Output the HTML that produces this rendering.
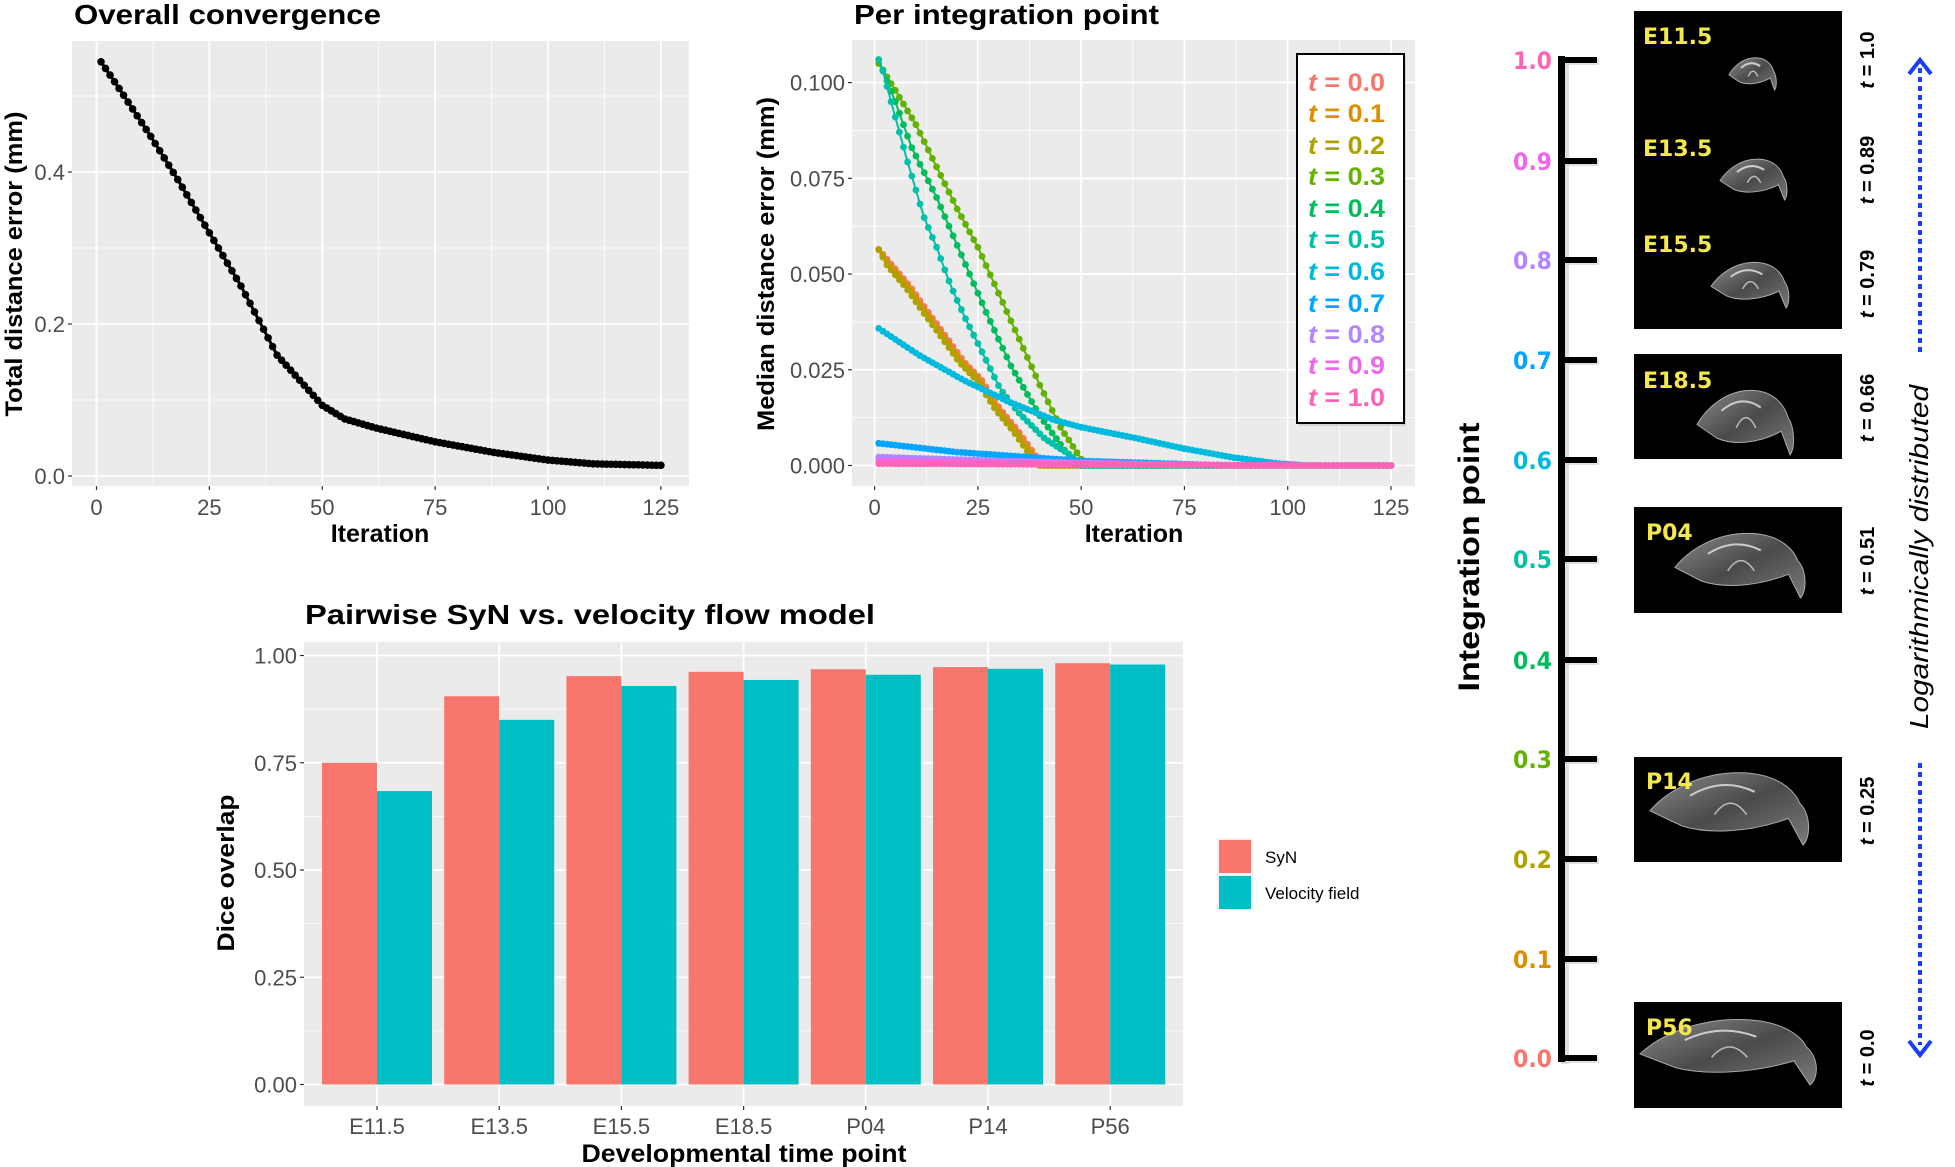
<!DOCTYPE html>
<html><head><meta charset="utf-8"><style>
html,body{margin:0;padding:0;background:#fff;}
svg{display:block;font-family:"Liberation Sans",sans-serif;}
</style></head><body>
<svg id="s" width="1955" height="1167" viewBox="0 0 1955 1167" xmlns="http://www.w3.org/2000/svg">
<defs>
<linearGradient id="br" x1="0" y1="0" x2="1" y2="1"><stop offset="0" stop-color="#8a8a8a"/><stop offset="0.5" stop-color="#4a4a4a"/><stop offset="1" stop-color="#7a7a7a"/></linearGradient>
</defs>
<g id="g"></g>
<text x="74" y="24" font-size="28" font-weight="bold" textLength="307" lengthAdjust="spacingAndGlyphs">Overall convergence</text>
<text x="854" y="24" font-size="28" font-weight="bold" textLength="305" lengthAdjust="spacingAndGlyphs">Per integration point</text>
<text x="305" y="624" font-size="28" font-weight="bold" textLength="570" lengthAdjust="spacingAndGlyphs">Pairwise SyN vs. velocity flow model</text>
<text x="380" y="542" font-size="25" font-weight="bold" text-anchor="middle">Iteration</text>
<text x="1134" y="542" font-size="25" font-weight="bold" text-anchor="middle">Iteration</text>
<text x="744" y="1162" font-size="25" font-weight="bold" text-anchor="middle" textLength="325" lengthAdjust="spacingAndGlyphs">Developmental time point</text>
<text transform="translate(22,264) rotate(-90)" font-size="24" font-weight="bold" text-anchor="middle" textLength="305" lengthAdjust="spacingAndGlyphs">Total distance error (mm)</text>
<text transform="translate(774,264) rotate(-90)" font-size="24" font-weight="bold" text-anchor="middle" textLength="334" lengthAdjust="spacingAndGlyphs">Median distance error (mm)</text>
<text transform="translate(234,873) rotate(-90)" font-size="24" font-weight="bold" text-anchor="middle" textLength="157" lengthAdjust="spacingAndGlyphs">Dice overlap</text>
</svg>
<script>
var NS="http://www.w3.org/2000/svg",G=document.getElementById("g");
function el(t,a,txt){var e=document.createElementNS(NS,t);for(var k in a)e.setAttribute(k,a[k]);if(txt!==undefined)e.textContent=txt;G.appendChild(e);return e;}
function interp(kp,x){if(x<=kp[0][0])return kp[0][1];for(var i=1;i<kp.length;i++){if(x<=kp[i][0]){var a=kp[i-1],b=kp[i];return a[1]+(b[1]-a[1])*(x-a[0])/(b[0]-a[0]);}}return kp[kp.length-1][1];}
var tickc="#333",labc="#4d4d4d";
(function(){
 var L=72,R=689,T=41,B=486,x0=96.5,sx=4.515,y0=476,sy=760;
 el("rect",{x:L,y:T,width:R-L,height:B-T,fill:"#EBEBEB"});
 for(var v=12.5;v<130;v+=25){var X=x0+v*sx;if(X<R)el("line",{x1:X,x2:X,y1:T,y2:B,stroke:"#fff","stroke-width":0.8});}
 [0.1,0.3,0.5].forEach(function(v){var Y=y0-v*sy;el("line",{x1:L,x2:R,y1:Y,y2:Y,stroke:"#fff","stroke-width":0.8});});
 for(var v=0;v<=125;v+=25){var X=x0+v*sx;el("line",{x1:X,x2:X,y1:T,y2:B,stroke:"#fff","stroke-width":1.8});
  el("line",{x1:X,x2:X,y1:B,y2:B+4,stroke:tickc,"stroke-width":1.2});
  el("text",{x:X,y:B+29,"font-size":22,fill:labc,"text-anchor":"middle"},String(v));}
 [0,0.2,0.4].forEach(function(v){var Y=y0-v*sy;el("line",{x1:L,x2:R,y1:Y,y2:Y,stroke:"#fff","stroke-width":1.8});
  el("line",{x1:L-4,x2:L,y1:Y,y2:Y,stroke:tickc,"stroke-width":1.2});
  el("text",{x:L-7,y:Y+8,"font-size":22,fill:labc,"text-anchor":"end"},v.toFixed(1));});
 var kp=[[1,.545],[5,.51],[12,.447],[18,.39],[25,.32],[32,.25],[40,.159],[50,.093],[55,.075],[62,.063],[75,.045],[88,.031],[100,.021],[110,.016],[125,.014]];
 var d="";for(var i=1;i<=125;i++){var X=x0+i*sx,Y=y0-interp(kp,i)*sy;d+=(i==1?"M":"L")+X.toFixed(1)+","+Y.toFixed(1);}
 el("path",{d:d,stroke:"#000","stroke-width":3,fill:"none"});
 for(var i=1;i<=125;i++){el("circle",{cx:x0+i*sx,cy:y0-interp(kp,i)*sy,r:3.8,fill:"#000"});}
})();
(function(){
 var L=852,R=1415,T=40,B=486,x0=874.6,sx=4.131,y0=465.5,sy=3829;
 el("rect",{x:L,y:T,width:R-L,height:B-T,fill:"#EBEBEB"});
 for(var v=12.5;v<130;v+=25){var X=x0+v*sx;if(X<R)el("line",{x1:X,x2:X,y1:T,y2:B,stroke:"#fff","stroke-width":0.8});}
 [0.0125,0.0375,0.0625,0.0875].forEach(function(v){var Y=y0-v*sy;el("line",{x1:L,x2:R,y1:Y,y2:Y,stroke:"#fff","stroke-width":0.8});});
 for(var v=0;v<=125;v+=25){var X=x0+v*sx;el("line",{x1:X,x2:X,y1:T,y2:B,stroke:"#fff","stroke-width":1.8});
  el("line",{x1:X,x2:X,y1:B,y2:B+4,stroke:tickc,"stroke-width":1.2});
  el("text",{x:X,y:B+29,"font-size":22,fill:labc,"text-anchor":"middle"},String(v));}
 [0,0.025,0.05,0.075,0.1].forEach(function(v){var Y=y0-v*sy;el("line",{x1:L,x2:R,y1:Y,y2:Y,stroke:"#fff","stroke-width":1.8});
  el("line",{x1:L-4,x2:L,y1:Y,y2:Y,stroke:tickc,"stroke-width":1.2});
  el("text",{x:L-7,y:Y+8,"font-size":22,fill:labc,"text-anchor":"end"},v.toFixed(3));});
 var cols=["#F8766D","#DB8E00","#AEA200","#64B200","#00BD5C","#00C1A7","#00BADE","#00A6FF","#B385FF","#EF67EB","#FF63B6"];
 var red=[[1,.0564],[4.3,.0522],[8.7,.0466],[13,.040],[17.4,.0335],[21.7,.027],[26,.0222],[30.4,.0147],[34.7,.0091],[39,.0025],[41,0]];
 function shift(kp,dx){return kp.map(function(p){return [p[0]==1?1:p[0]+dx,p[1]];});}
 var S=[
  red, shift(red,-0.5), shift(red,-1.2),
  [[1,.105],[5,.098],[10,.089],[15,.078],[20,.067],[25,.057],[30,.045],[35,.033],[40,.021],[45,.010],[51,0]],
  [[1,.106],[5,.095],[9,.083],[15,.070],[21,.055],[27,.040],[33,.026],[40,.013],[46,.004],[50,0]],
  [[1,.106],[2,.103],[5,.091],[7.8,.080],[11.9,.065],[15,.057],[18.4,.047],[21.7,.039],[26,.0297],[30.4,.020],[34.7,.014],[41.2,.007],[47.7,.0025],[49.5,0]],
  [[1,.0358],[10.8,.0288],[21.7,.0222],[32.6,.0166],[43.4,.0119],[50,.0100],[63,.0072],[75,.0044],[86.8,.0021],[97.7,.0005],[105,0]],
  [[1,.0058],[20,.0035],[50,.0012],[80,0.0002],[90,0]],
  [[1,.0022],[30,.0012],[70,.0003],[90,0]],
  [[1,.0012],[40,.0006],[90,0]],
  [[1,.0005],[60,.0002],[100,0]]
 ];
 for(var s=0;s<S.length;s++){
  var kp=S[s],d="";
  for(var i=1;i<=125;i++){var X=x0+i*sx,Y=y0-interp(kp,i)*sy;d+=(i==1?"M":"L")+X.toFixed(1)+","+Y.toFixed(1);}
  el("path",{d:d,stroke:cols[s],"stroke-width":2,fill:"none"});
  for(var i=1;i<=125;i++){el("circle",{cx:(x0+i*sx).toFixed(1),cy:(y0-interp(kp,i)*sy).toFixed(1),r:3.4,fill:cols[s]});}
 }
 el("rect",{x:1299,y:57,width:107,height:369,fill:"#bbb",opacity:0.5});
 el("rect",{x:1297,y:54,width:107,height:369,fill:"#fff",stroke:"#000","stroke-width":2});
 var ys=[82,113,145,176,208,239,271,303,334,365,397],lab=["0.0","0.1","0.2","0.3","0.4","0.5","0.6","0.7","0.8","0.9","1.0"];
 for(var i=0;i<11;i++){var t=el("text",{x:1308,y:ys[i]+9,"font-size":25,"font-weight":"bold",fill:cols[i],textLength:77,lengthAdjust:"spacingAndGlyphs"});
  var a=document.createElementNS(NS,"tspan");a.setAttribute("font-style","italic");a.textContent="t";t.appendChild(a);
  var b=document.createElementNS(NS,"tspan");b.textContent=" = "+lab[i];t.appendChild(b);}
})();
(function(){
 var L=304,R=1183,T=642,B=1106,y0=1084.5,sy=429;
 el("rect",{x:L,y:T,width:R-L,height:B-T,fill:"#EBEBEB"});
 [0.125,0.375,0.625,0.875].forEach(function(v){var Y=y0-v*sy;el("line",{x1:L,x2:R,y1:Y,y2:Y,stroke:"#fff","stroke-width":0.8});});
 [0,0.25,0.5,0.75,1].forEach(function(v){var Y=y0-v*sy;el("line",{x1:L,x2:R,y1:Y,y2:Y,stroke:"#fff","stroke-width":1.8});
  el("line",{x1:L-4,x2:L,y1:Y,y2:Y,stroke:tickc,"stroke-width":1.2});
  el("text",{x:L-7,y:Y+8,"font-size":22,fill:labc,"text-anchor":"end"},v.toFixed(2));});
 var cats=["E11.5","E13.5","E15.5","E18.5","P04","P14","P56"],syn=[.75,.905,.952,.962,.968,.973,.982],vel=[.684,.85,.929,.943,.955,.969,.979];
 for(var i=0;i<7;i++){var X=377+i*122.2;
  el("line",{x1:X,x2:X,y1:T,y2:B,stroke:"#fff","stroke-width":1.8});
  el("line",{x1:X,x2:X,y1:B,y2:B+4,stroke:tickc,"stroke-width":1.2});
  el("text",{x:X,y:B+28,"font-size":22,fill:labc,"text-anchor":"middle"},cats[i]);
  el("rect",{x:X-55,y:y0-syn[i]*sy,width:55,height:syn[i]*sy,fill:"#F8766D"});
  el("rect",{x:X,y:y0-vel[i]*sy,width:55,height:vel[i]*sy,fill:"#00BFC4"});
 }
 el("rect",{x:1217,y:838,width:36,height:36,fill:"#F2F2F2"});
 el("rect",{x:1219,y:840,width:32,height:33,fill:"#F8766D"});
 el("rect",{x:1217,y:874,width:36,height:36,fill:"#F2F2F2"});
 el("rect",{x:1219,y:876,width:32,height:33,fill:"#00BFC4"});
 el("text",{x:1265,y:863,"font-size":17},"SyN");
 el("text",{x:1265,y:899,"font-size":17},"Velocity field");
})();
(function(){
 var ys=[60,161,260,360,460,559,660,759,859,959,1058];
 var cols=["#FF63B6","#EF67EB","#B385FF","#00A6FF","#00BADE","#00C1A7","#00BD5C","#64B200","#AEA200","#DB8E00","#F8766D"];
 var lab=["1.0","0.9","0.8","0.7","0.6","0.5","0.4","0.3","0.2","0.1","0.0"];
 el("rect",{x:1561,y:57,width:8,height:1007,fill:"#ccc",opacity:0.6});
 el("rect",{x:1558,y:56,width:7,height:1006,fill:"#000"});
 for(var i=0;i<11;i++){
  el("rect",{x:1565,y:ys[i]-1,width:34,height:6,fill:"#ccc",opacity:0.6});
  el("rect",{x:1563,y:ys[i]-3,width:34,height:6,fill:"#000"});
  el("text",{x:1552,y:ys[i]+9,"font-size":24,"font-weight":"bold","font-family":"DejaVu Sans, sans-serif",fill:cols[i],"text-anchor":"end",textLength:39,lengthAdjust:"spacingAndGlyphs"},lab[i]);
 }
 el("text",{transform:"translate(1479,557) rotate(-90)","font-size":30,"font-weight":"bold","text-anchor":"middle",textLength:269,lengthAdjust:"spacingAndGlyphs"},"Integration point");
 var rects=[[11,329],[354,459],[507,613],[757,862],[1002,1108]];
 rects.forEach(function(r){el("rect",{x:1634,y:r[0],width:208,height:r[1]-r[0],fill:"#000"});});
 var br=[[1729,1777,56,90],[1720,1788,157,200],[1711,1790,260,308],[1697,1795,387,455],[1675,1807,530,598],[1650,1811,769,845],[1640,1819,1016,1085]];
 br.forEach(function(b){var x1=b[0],x2=b[1],y1=b[2],y2=b[3],w=x2-x1,h=y2-y1;
  var d="M"+x1+","+(y1+h*0.55)+" C"+(x1+w*0.1)+","+(y1+h*0.3)+" "+(x1+w*0.3)+","+(y1+h*0.05)+" "+(x1+w*0.55)+","+(y1+h*0.05)
   +" C"+(x1+w*0.8)+","+(y1+h*0.05)+" "+(x1+w*0.9)+","+(y1+h*0.3)+" "+(x1+w*0.93)+","+(y1+h*0.45)
   +" C"+(x1+w*1.0)+","+(y1+h*0.6)+" "+x2+","+(y1+h*0.9)+" "+(x1+w*0.95)+","+y2
   +" L"+(x1+w*0.86)+","+(y1+h*0.65)+" C"+(x1+w*0.6)+","+(y1+h*0.85)+" "+(x1+w*0.35)+","+(y1+h*0.85)+" "+(x1+w*0.2)+","+(y1+h*0.75)+" Z";
  el("path",{d:d,fill:"url(#br)",stroke:"#aaa","stroke-width":1});
  el("path",{d:"M"+(x1+w*0.25)+","+(y1+h*0.35)+" Q"+(x1+w*0.45)+","+(y1+h*0.1)+" "+(x1+w*0.65)+","+(y1+h*0.3),fill:"none",stroke:"#ccc","stroke-width":2});
  el("path",{d:"M"+(x1+w*0.4)+","+(y1+h*0.6)+" Q"+(x1+w*0.5)+","+(y1+h*0.3)+" "+(x1+w*0.6)+","+(y1+h*0.6),fill:"none",stroke:"#bbb","stroke-width":1.5});
 });
 var nm=[["E11.5",1643,35],["E13.5",1643,147],["E15.5",1643,243],["E18.5",1643,379],["P04",1646,531],["P14",1646,780],["P56",1646,1026]];
 nm.forEach(function(n){el("text",{x:n[1],y:n[2]+9,"font-size":22,"font-weight":"bold","font-family":"DejaVu Sans, sans-serif",fill:"#F5E84A"},n[0]);});
 var tl=[["1.0",60],["0.89",170],["0.79",284],["0.66",408],["0.51",561],["0.25",811],["0.0",1058]];
 tl.forEach(function(t){var e=el("text",{transform:"translate(1874,"+t[1]+") rotate(-90)","font-size":20,"font-weight":"bold","text-anchor":"middle"});
  var a=document.createElementNS(NS,"tspan");a.setAttribute("font-style","italic");a.textContent="t";e.appendChild(a);
  var b=document.createElementNS(NS,"tspan");b.textContent=" = "+t[0];e.appendChild(b);});
 el("line",{x1:1920,x2:1920,y1:68,y2:355,stroke:"#1a3cff","stroke-width":4,"stroke-dasharray":"5,4"});
 el("line",{x1:1920,x2:1920,y1:763,y2:1045,stroke:"#1a3cff","stroke-width":4,"stroke-dasharray":"5,4"});
 el("path",{d:"M1909,74 L1920,60 L1931,74",fill:"none",stroke:"#1a3cff","stroke-width":4});
 el("path",{d:"M1909,1041 L1920,1055 L1931,1041",fill:"none",stroke:"#1a3cff","stroke-width":4});
 el("text",{transform:"translate(1928,557) rotate(-90)","font-size":26,"font-style":"italic","text-anchor":"middle",textLength:344,lengthAdjust:"spacingAndGlyphs"},"Logarithmically distributed");
})();
</script>
</body></html>
